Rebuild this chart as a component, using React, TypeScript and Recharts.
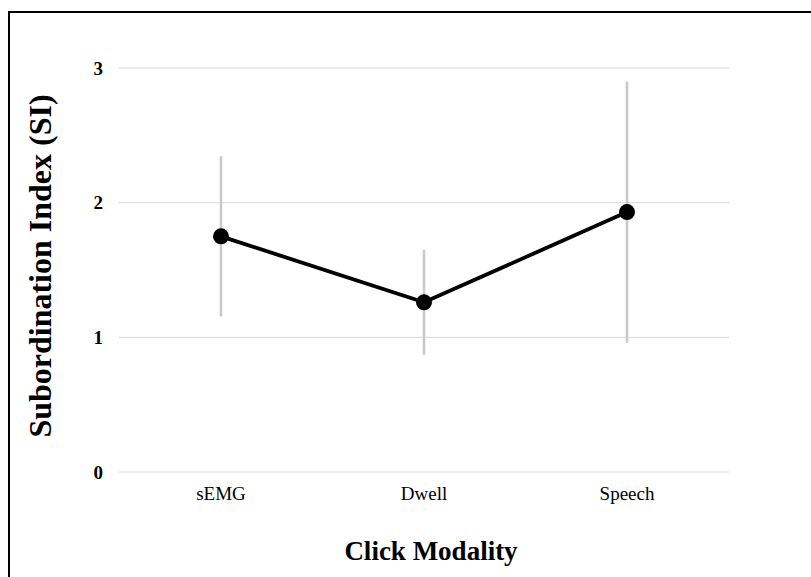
import React from 'react';
import { LineChart, Line, XAxis, YAxis, CartesianGrid, ErrorBar } from 'recharts';

const categories = ['sEMG', 'Dwell', 'Speech'];
const meanSI = [1.75, 1.26, 1.93];
const errSI = [0.595, 0.39, 0.97];
const yTicks = [0, 1, 2, 3];

const data = categories.map((c, i) => ({ name: c, si: meanSI[i], err: errSI[i] }));

const FONT = '"Liberation Serif", "Times New Roman", serif';

export default function App() {
  return (
    <div style={{ position: 'absolute', left: 0, top: 0, width: 811, height: 577, overflow: 'hidden', background: '#fff' }}>
      <div style={{ position: 'absolute', left: 8, top: 11, width: 900, height: 700, border: '2px solid #000', boxSizing: 'border-box' }} />
      <div style={{ position: 'absolute', left: 0, top: 0 }}>
        <LineChart width={811} height={577} data={data} margin={{ top: 68, right: 82, bottom: 0, left: 0 }}>
          <CartesianGrid vertical={false} stroke="#d9d9d9" strokeWidth={1} />
          <XAxis
            dataKey="name"
            height={105}
            padding={{ left: 102, right: 102 }}
            axisLine={false}
            tickLine={false}
            tickSize={6}
            tickMargin={9}
            tick={{ fill: '#000', fontFamily: FONT, fontSize: 19 }}
            label={{ value: 'Click Modality', position: 'insideBottom', offset: 17, dx: 7, fill: '#000', fontFamily: FONT, fontSize: 27, fontWeight: 'bold' }}
          />
          <YAxis
            width={119}
            domain={[0, 3]}
            ticks={yTicks}
            axisLine={false}
            tickLine={false}
            tickSize={6}
            tickMargin={10}
            tick={{ fill: '#000', fontFamily: FONT, fontSize: 19, fontWeight: 'bold' }}
            label={{ value: 'Subordination Index (SI)', angle: -90, position: 'center', dx: -20, dy: -4, fill: '#000', fontFamily: FONT, fontSize: 32, fontWeight: 'bold' }}
          />
          <Line
            dataKey="si"
            stroke="#000"
            strokeWidth={3.8}
            dot={{ r: 8, fill: '#000', stroke: '#000', strokeWidth: 0 }}
            activeDot={false}
            isAnimationActive={false}
          >
            <ErrorBar dataKey="err" direction="y" width={0} stroke="#c8c8c8" strokeWidth={2.5} />
          </Line>
        </LineChart>
      </div>
    </div>
  );
}
